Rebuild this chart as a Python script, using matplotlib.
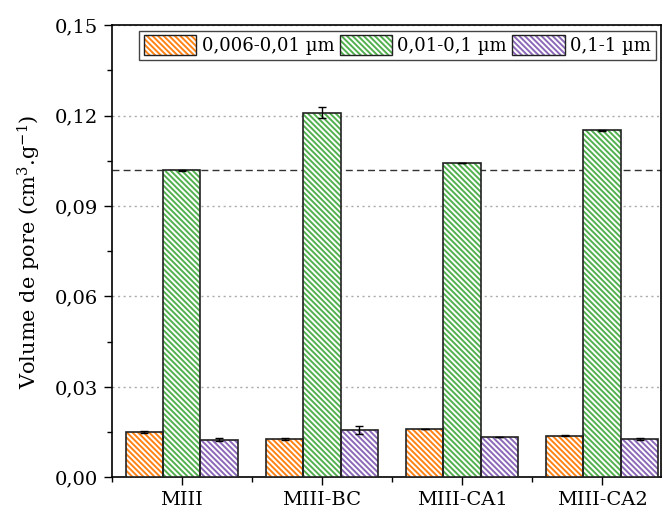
#!/usr/bin/env python3

import matplotlib
matplotlib.use("Agg")
import matplotlib.pyplot as plt
from matplotlib.patches import Patch
from matplotlib.legend_handler import HandlerTuple
from matplotlib.ticker import MultipleLocator, FuncFormatter
import numpy as np

samples = ["MIII", "MIII-BC", "MIII-CA1", "MIII-CA2"]
series_names = ["0,006-0,01 µm", "0,01-0,1 µm", "0,1-1 µm"]

small_pores = [0.0150, 0.0127, 0.0159, 0.0138]
small_err = [0.0003, 0.0003, 0.0, 0.0002]
mid_pores = [0.1019, 0.1210, 0.1042, 0.1152]
mid_err = [0.0002, 0.0018, 0.0, 0.0002]
large_pores = [0.0125, 0.0158, 0.0135, 0.0127]
large_err = [0.0004, 0.0013, 0.0, 0.0002]

reference_level = 0.1019

colors = ["#FF8214", "#52B04E", "#8C68B8"]
HATCH = "\\" * 6

plt.rcParams["font.family"] = ["DejaVu Serif"]
plt.rcParams["hatch.linewidth"] = 1.4
plt.rcParams["mathtext.fontset"] = "dejavuserif"


def main():
    fig = plt.figure(figsize=(6.63, 5.15), dpi=100)
    ax = fig.add_axes([0.1685, 0.0732, 0.8285, 0.8777])

    x = np.arange(1, len(samples) + 1)
    width = 0.8 / 3
    values = [small_pores, mid_pores, large_pores]
    errors = [small_err, mid_err, large_err]

    for i, (vals, errs, color) in enumerate(zip(values, errors, colors)):
        pos = x + (i - 1) * width
        # hatch drawn in the series colour, outline drawn separately
        ax.bar(pos, vals, width, color="white", edgecolor=color,
               hatch=HATCH, linewidth=0, zorder=3)
        ax.bar(pos, vals, width, fill=False, edgecolor="#222222",
               linewidth=1.2, zorder=4)
        ax.errorbar(pos, vals, yerr=errs, fmt="none", ecolor="black",
                    elinewidth=1.0, capsize=3, capthick=1.0, zorder=5)

    ax.axhline(reference_level, color="#333333", linestyle=(0, (5, 3)),
               linewidth=1.0, zorder=2)

    ax.set_xlim(0.5, 4.42)
    ax.set_ylim(0, 0.15)
    ax.set_xticks(x)
    ax.set_xticklabels(samples)
    ax.xaxis.set_minor_locator(MultipleLocator(0.5))
    ax.yaxis.set_major_locator(MultipleLocator(0.03))
    ax.yaxis.set_minor_locator(MultipleLocator(0.015))
    ax.yaxis.set_major_formatter(
        FuncFormatter(lambda v, p: f"{v:.2f}".replace(".", ",")))

    ax.tick_params(axis="both", which="major", direction="out", length=6,
                   width=1.0, labelsize=14, pad=4)
    ax.tick_params(axis="both", which="minor", direction="out", length=3.5,
                   width=1.0)

    ax.grid(axis="y", which="major", color="#aaaaaa",
            linestyle=(0, (1.5, 2.5)), linewidth=1.0, zorder=1)
    for spine in ax.spines.values():
        spine.set_linewidth(1.2)

    ax.set_ylabel("Volume de pore (cm$^3$.g$^{-1}$)", fontsize=15, labelpad=8)

    handles = [(Patch(facecolor="white", edgecolor=c, hatch=HATCH, linewidth=0),
                Patch(fill=False, edgecolor="#222222", linewidth=1.0))
               for c in colors]
    leg = ax.legend(handles, series_names, loc="upper right", ncol=3,
                    fontsize=13, handlelength=2.9, handleheight=1.3,
                    handletextpad=0.3, columnspacing=0.3, borderpad=0.25,
                    borderaxespad=0.3, fancybox=False, framealpha=1,
                    edgecolor="#444444",
                    handler_map={tuple: HandlerTuple(ndivide=1, pad=0)})
    leg.get_frame().set_linewidth(1.0)

    fig.savefig("out.png", dpi=100)


if __name__ == "__main__":
    main()
